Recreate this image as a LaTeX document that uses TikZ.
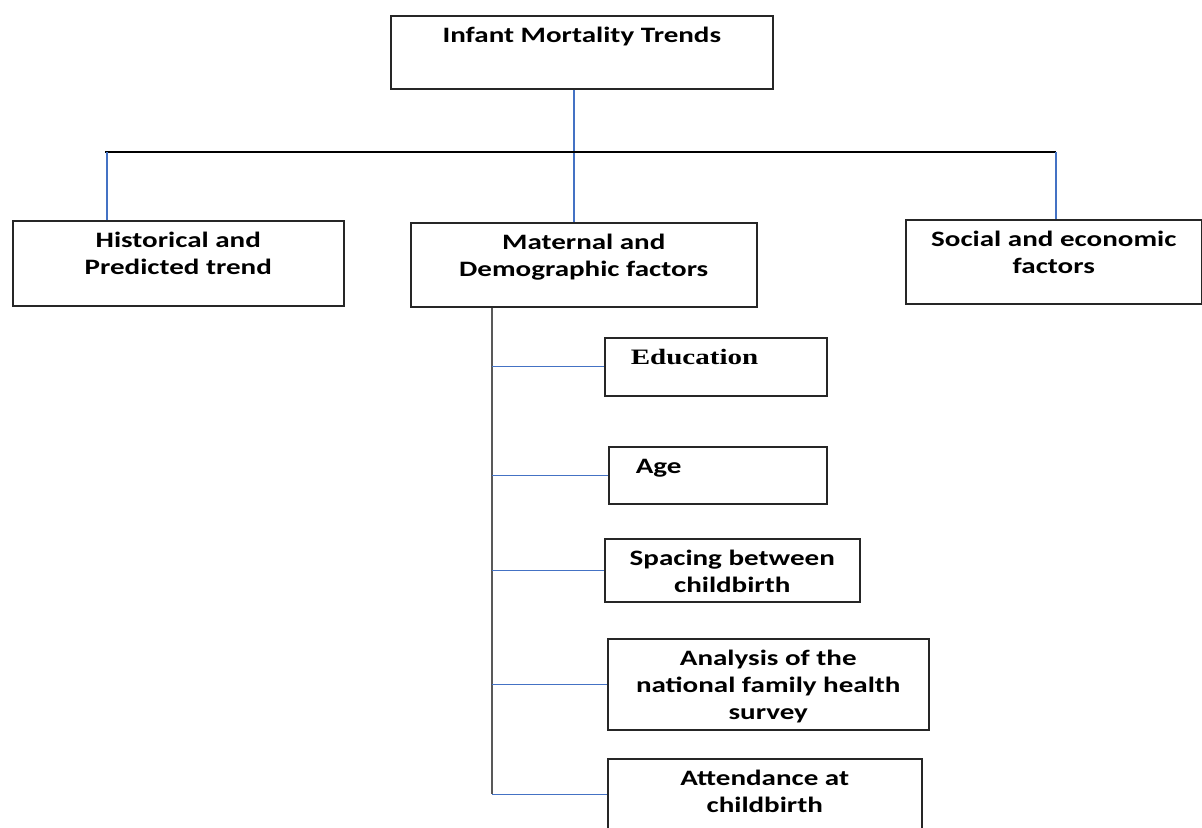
\documentclass[tikz,border=0pt]{standalone}
\usepackage{fontspec}
\setmainfont{Carlito}[FakeStretch=1.32]
\newfontfamily\edufont{Liberation Serif}[FakeStretch=1.32]
\usetikzlibrary{calc}
\definecolor{linkblue}{HTML}{4472C4}
\newcommand{\boxtxt}[4][\centering]{\parbox[t][#3][t]{#2}{#1\rule{0pt}{13.5pt}#4}}

\begin{document}
\begin{tikzpicture}[x=0.5pt, y=-0.5pt,
        box/.style={draw=black!85, line width=0.75pt, anchor=north west, inner sep=0pt,
            font=\bfseries\fontsize{11}{13.5}\selectfont},
        wire/.style={draw=linkblue, line width=0.55pt},
        bus/.style={draw=black, line width=1.1pt},
        spineline/.style={draw=black!65, line width=1pt}]
        \clip (0,0) rectangle (1202,827);

        \node (top) [box] at (390,15) {\boxtxt{191pt}{36.5pt}{Infant Mortality Trends}};

        \node (hist) [box] at (12,220) {\boxtxt{165.5pt}{42.5pt}{Historical and\\Predicted trend}};
        \node (mat) [box] at (410,222) {\boxtxt{173pt}{42pt}{Maternal and\\Demographic factors}};
        \node (soc) [box] at (905,219) {\boxtxt{148pt}{42pt}{Social and economic\\factors}};

        \node (edu) [box] at (604,337) {\boxtxt[\raggedright\hspace*{13pt}]{111pt}{29pt}{\edufont Education}};
        \node (age) [box] at (608,446) {\boxtxt[\raggedright\hspace*{13.5pt}]{109pt}{28.5pt}{Age}};
        \node (spa) [box] at (604,538) {\boxtxt{127.5pt}{31.5pt}{Spacing between\\childbirth}};
        \node (ana) [box] at (607,638) {\boxtxt{160.5pt}{45.5pt}{Analysis of the\\national family health\\survey}};
        \node (att) [box] at (607,758) {\boxtxt{157pt}{35.5pt}{Attendance at\\childbirth}};

        \coordinate (hub) at (574,152);
        \coordinate (busL) at (107,152);
        \coordinate (busR) at (1056,152);
        \coordinate (spine) at (492,0);

        \draw[wire] (hub |- top.south) -- (hub |- mat.north);
        \draw[bus] ($(busL) + (-2,0)$) -- (busR);
        \draw[wire] (busL) -- (busL |- hist.north);
        \draw[wire] (busR) -- (busR |- soc.north);

        \draw[spineline] (spine |- mat.south) -- (spine |- att.west);
        \foreach \n in {edu,age,spa,ana,att}
            \draw[wire] (spine |- \n.west) -- (\n.west);
    \end{tikzpicture}
\end{document}
